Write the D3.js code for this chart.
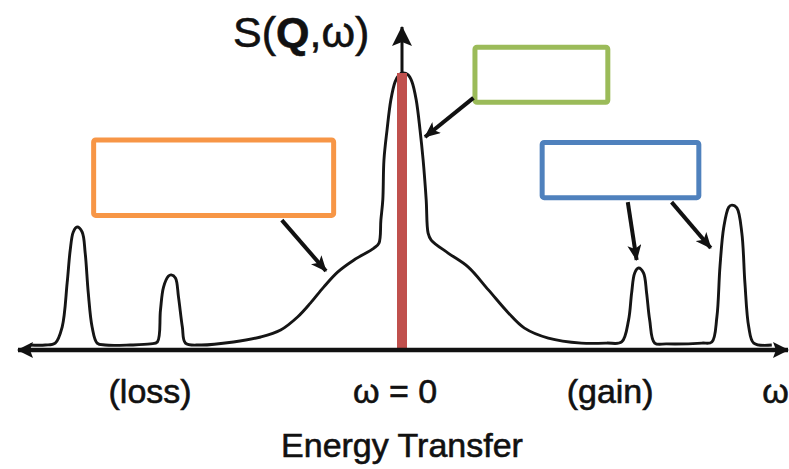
<!DOCTYPE html>
<html><head><meta charset="utf-8">
<script src="https://cdn.jsdelivr.net/npm/d3@7"></script>
<style>
body{margin:0;background:#fff}
svg{display:block}
text{font-family:"Liberation Sans",Arial,Helvetica,sans-serif;fill:#111;stroke:#111;stroke-width:0.6}
</style>
</head><body>
<svg id="c" width="789" height="469"></svg>
<script>
// ---- data (energy transfer ω in arb. units, S(Q,ω) in % of elastic peak)
const omega = [-96.9,-92.9,-90.3,-88.5,-87.2,-86.4,-85.6,-84.6,-83.3,-82.5,-81.7,-80.7,-79.4,-77.3,-70.8,-65.5,-63.7,-62.9,-62.1,-60.8,-60.1,-59.0,-58.2,-57.2,-56.4,-52.5,-43.9,-36.8,-31.6,-27.2,-23.8,-20.4,-16.7,-12.5,-7.3,-6.0,-5.5,-5.0,-4.7,-3.9,-2.9,-1.8,-0.8,0.3,1.6,2.6,3.7,4.7,5.5,6.3,6.8,7.6,12.0,17.2,22.5,27.7,31.9,38.1,46.7,53.3,57.2,59.0,59.8,60.6,61.6,62.9,63.7,64.5,65.8,68.9,78.1,80.7,82.0,82.8,83.8,85.1,85.9,87.2,88.5,89.3,90.3,91.6,96.3];
const intensity = [1.8,1.8,2.5,8.3,24.2,36.1,42.6,44.4,42.6,35.0,20.6,8.3,2.5,1.8,1.8,2.2,2.9,14.4,22.7,26.7,27.1,26.0,19.1,8.3,2.5,1.8,2.9,4.7,7.2,11.9,17.0,22.7,28.2,32.5,36.8,38.6,46.9,54.2,68.6,79.4,90.3,96.8,99.3,100,99.3,96.8,90.3,79.4,68.6,54.2,42.2,39.7,35.0,30.0,21.7,13.4,7.9,4.3,2.5,2.5,2.9,10.8,20.6,27.8,29.6,27.8,20.6,10.8,2.5,2.2,2.5,2.9,11.9,30.0,44.4,51.6,52.3,51.3,42.2,24.2,8.3,2.5,1.8];
const elasticLine = [{w:0, s:0}, {w:0, s:100}];
const axisLabels = ["(loss)", "ω = 0", "(gain)", "ω"];
const axisLabelOmega = [-65.6, -1.8, 54.2, 93.8];
const xTitle = "Energy Transfer";
const yTitleParts = ["S(", "Q", ",ω)"];
// callout boxes (empty) and the features they point to, in data units
const calloutNames = ["quasielastic", "elastic", "inelastic"];
const calloutColors = ["#F79646", "#9BBB59", "#4F81BD"];
const calloutBoxes = [[-80.3,-17.8,75.8,48.6],[19.0,53.6,109.3,89.4],[36.5,77.3,74.9,55.0]];
const calloutArrows = [[[-31.3,46.9,-19.8,28.5]],[[18.6,91.0,6.0,76.9]],[[58.8,53.4,61.1,32.5],[70.2,53.4,80.4,36.8]]];

// ---- layout
const svg = d3.select("#c");
const x = d3.scaleLinear().domain([-100, 100]).range([18, 786]);
const y = d3.scaleLinear().domain([0, 100]).range([350, 73]);

const defs = svg.append("defs");
defs.append("marker").attr("id","ah").attr("markerUnits","userSpaceOnUse")
  .attr("viewBox","0 -7 16 14").attr("refX",15).attr("refY",0)
  .attr("markerWidth",16).attr("markerHeight",14).attr("orient","auto")
  .append("path").attr("d","M0,-7L16,0L0,7L4,0Z").attr("fill","#111");
defs.append("marker").attr("id","axh").attr("markerUnits","userSpaceOnUse")
  .attr("viewBox","0 -8 16 16").attr("refX",15).attr("refY",0)
  .attr("markerWidth",16).attr("markerHeight",16).attr("orient","auto-start-reverse")
  .append("path").attr("d","M0,-8L16,0L0,8L3,0Z").attr("fill","#111");
defs.append("marker").attr("id","ayh").attr("markerUnits","userSpaceOnUse")
  .attr("viewBox","0 -10 20 20").attr("refX",19).attr("refY",0)
  .attr("markerWidth",20).attr("markerHeight",20).attr("orient","auto")
  .append("path").attr("d","M0,-10L20,0L0,10L4,0Z").attr("fill","#111");

// vertical axis arrow
svg.append("line").attr("x1", x(0)).attr("x2", x(0)).attr("y1", y(0)).attr("y2", 27)
  .attr("stroke","#111").attr("stroke-width",3).attr("marker-end","url(#ayh)");

// spectrum curve
const pts = omega.map((w,i)=>({w, s:intensity[i]}));
svg.append("path").datum(pts)
  .attr("d", d3.line().x(d=>x(d.w)).y(d=>y(d.s)).curve(d3.curveCatmullRom.alpha(0.5)))
  .attr("fill","none").attr("stroke","#151515").attr("stroke-width",2.9)
  .attr("stroke-linejoin","round");

// elastic (delta) line
svg.append("line")
  .attr("x1", x(elasticLine[0].w)).attr("x2", x(elasticLine[1].w))
  .attr("y1", y(elasticLine[0].s)).attr("y2", y(elasticLine[1].s))
  .attr("stroke","#C0504D").attr("stroke-width",10);

// horizontal axis with arrows at both ends
svg.append("line").attr("x1", x(-100)).attr("x2", x(100)+2).attr("y1", y(0)).attr("y2", y(0))
  .attr("stroke","#111").attr("stroke-width",4.5)
  .attr("marker-start","url(#axh)").attr("marker-end","url(#axh)");

// callout boxes
calloutBoxes.forEach((b,i)=>{
  svg.append("rect").attr("class","callout "+calloutNames[i])
    .attr("x", x(b[0])).attr("y", y(b[2]))
    .attr("width", x(b[1])-x(b[0])).attr("height", y(b[3])-y(b[2]))
    .attr("rx",2).attr("fill","none").attr("stroke",calloutColors[i]).attr("stroke-width",5);
  calloutArrows[i].forEach(a=>{
    svg.append("line").attr("x1",x(a[0])).attr("y1",y(a[1])).attr("x2",x(a[2])).attr("y2",y(a[3]))
      .attr("stroke","#111").attr("stroke-width",4).attr("marker-end","url(#ah)");
  });
});

// labels
const yt = svg.append("text").attr("x",233).attr("y",47).attr("font-size",43);
yt.append("tspan").text(yTitleParts[0]);
yt.append("tspan").attr("font-weight","bold").text(yTitleParts[1]);
yt.append("tspan").text(yTitleParts[2]);

axisLabels.forEach((t,i)=>{
  svg.append("text").attr("x", x(axisLabelOmega[i])).attr("y", 403)
    .attr("text-anchor", i===3 ? "start" : "middle").attr("font-size",34).text(t);
});
svg.append("text").attr("x", x(0)).attr("y",457).attr("text-anchor","middle")
  .attr("font-size",34).text(xTitle);
</script>
</body></html>
